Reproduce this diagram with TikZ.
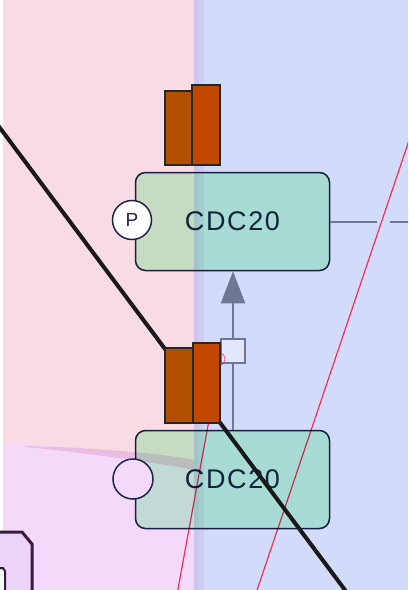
\documentclass[tikz,border=0pt]{standalone}
\usepackage{fontspec}
\setmainfont{Liberation Sans}
\usetikzlibrary{arrows.meta}
\definecolor{pinkbg}{HTML}{F9DBE3}
\definecolor{bluebg}{HTML}{D3DBFA}
\definecolor{violetbg}{HTML}{F5D9FB}
\definecolor{bandpink}{HTML}{E6B2D8}
\definecolor{stripc}{HTML}{CCC5EF}
\definecolor{genefill}{HTML}{CBFFD9}
\definecolor{edgec}{HTML}{1E2446}
\definecolor{labelc}{HTML}{1E2A4A}
\definecolor{linkc}{HTML}{6E7794}
\definecolor{redc}{HTML}{F0305A}
\definecolor{barA}{HTML}{B25000}
\definecolor{barB}{HTML}{C24800}
\definecolor{framec}{HTML}{3A1840}
\definecolor{framefill}{HTML}{EDD3F6}
\tikzset{
  gene/.style={rounded corners=10pt, minimum width=194pt, minimum height=98pt,
    fill=genefill, draw=edgec, line width=1.5pt, text=labelc, inner sep=0pt,
    font=\fontsize{27}{27}\selectfont\addfontfeature{LetterSpace=6}},
  site/.style={circle, draw=edgec, line width=1.5pt, inner sep=0pt,
    minimum size=39pt, text=labelc, font=\fontsize{19}{19}\selectfont},
  bar/.style={draw=black!85, line width=1.5pt},
  link/.style={draw=linkc, line width=2pt},
  proc/.style={draw=linkc, line width=1.5pt, fill=white, fill opacity=0.35,
    minimum size=24pt, inner sep=0pt},
  redline/.style={draw=redc, line width=1.2pt},
  blackline/.style={draw=black!90, line width=4pt}
}
\begin{document}
\begin{tikzpicture}[x=1pt,y=-1pt]
\useasboundingbox (0,0) rectangle (408,590);
\clip (0,0) rectangle (408,590);

% compartments
\fill[white] (0,0) rectangle (408,590);
\fill[bluebg] (196,0) rectangle (408,590);
\fill[pinkbg] (3,0) rectangle (196,590);
\fill[violetbg] (3,443) .. controls (80,446) and (150,454) .. (196,466)
  -- (196,590) -- (3,590) -- cycle;
\fill[bandpink, opacity=0.7] (25,446) .. controls (80,447) and (150,452) .. (196,460)
  -- (196,470) .. controls (150,462) and (80,452) .. (25,447) -- cycle;
\fill[stripc] (194,0) rectangle (199,590);
\fill[stripc, opacity=0.5] (199,0) rectangle (204,590);

% reaction lines in the background
\coordinate (r1a) at (420,108);
\coordinate (r1b) at (250,611);
\draw[redline] (r1a) -- (r1b);
\node[circle, draw=redc, line width=1.2pt, minimum size=12pt, inner sep=0pt] (rc) at (219,359) {};
\coordinate (r2b) at (176,600);
\draw[redline] (rc.south) -- (r2b);

% genes
\begin{scope}[blend mode=multiply]
\node[gene] (up) at (232.5,221.5) {CDC20};
\node[gene] (lo) at (232.5,479.5) {CDC20};
\end{scope}
\node[site, fill=white] (p1) at (132,220) {P};
\node[site, fill=violetbg, minimum size=40pt] (p2) at (133,479) {};

% edge leaving to the right, with a gap at the crossing
\coordinate (g1) at (377,221.5);
\coordinate (g2) at (390,221.5);
\coordinate (g3) at (410,221.5);
\draw[link] (up.east) -- (g1);
\draw[link] (g2) -- (g3);

% conversion arrow with process square
\node[proc] (pr) at (233,351) {};
\draw[link] (lo.north -| pr) -- (pr.south);
\draw[link, -{Triangle[width=24pt,length=32pt]}] (pr.north) -- (up.south -| pr);

% black boundary line
\coordinate (k1) at (-5,121.3);
\coordinate (k2) at (350,596.7);
\draw[blackline] (k1) -- (k2);

% expression bars
\fill[barA] (165,91) rectangle (192,165);
\fill[barB] (192,85) rectangle (220,165);
\draw[bar] (165,91) rectangle (192,165);
\draw[bar] (192,85) rectangle (220,165);
\fill[barA] (165,348) rectangle (193,423);
\fill[barB] (193,343) rectangle (220,423);
\draw[bar] (165,348) rectangle (193,423);
\draw[bar] (193,343) rectangle (220,423);

% corner of a neighbouring compartment
\fill[framefill] (0,532) -- (22,532) -- (32,544) -- (32,592) -- (0,592) -- cycle;
\draw[framec, line width=3pt] (0,532) -- (22,532) -- (32,544) -- (32,592);
\fill[white!70!genefill] (0,570) rectangle (5,592);
\draw[framec, line width=2pt] (0,568) -- (3,568) -- (5,571) -- (5,592);
\end{tikzpicture}
\end{document}
